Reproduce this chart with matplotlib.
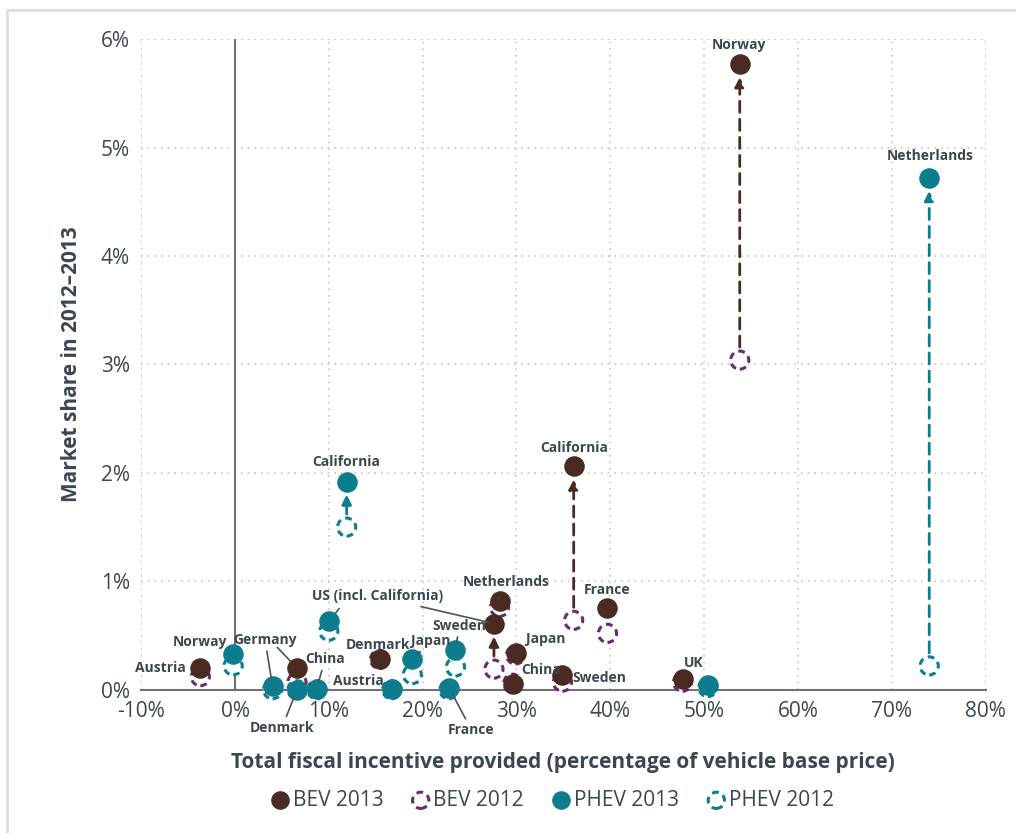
import matplotlib.pyplot as plt
from matplotlib.patches import Rectangle

# fiscal incentive (% of base price) and market share (%)
bev_names = ["Norway", "California", "Netherlands", "US", "France", "Japan",
             "China", "Sweden", "UK", "Denmark", "Germany", "Austria"]
bev_x = [53.8, 36.1, 28.2, 27.6, 39.7, 29.9, 29.6, 34.9, 47.7, 15.4, 6.6, -3.7]
bev_2013 = [5.77, 2.06, 0.82, 0.61, 0.75, 0.34, 0.05, 0.14, 0.10, 0.28, 0.20, 0.20]
bev_2012 = [3.04, 0.64, 0.76, 0.19, 0.52, 0.32, 0.06, 0.07, 0.07, 0.28, 0.07, 0.12]

phev_names = ["Netherlands", "California", "US", "Norway", "Germany", "Denmark",
              "China", "Austria", "Japan", "Sweden", "France", "UK"]
phev_x = [74.0, 11.9, 10.0, -0.2, 4.0, 6.6, 8.7, 16.7, 18.9, 23.5, 22.8, 50.4]
phev_2013 = [4.72, 1.92, 0.63, 0.33, 0.03, 0.0, 0.01, 0.01, 0.28, 0.37, 0.02, 0.04]
phev_2012 = [0.22, 1.50, 0.54, 0.22, 0.0, 0.0, 0.0, 0.0, 0.14, 0.21, 0.0, 0.02]

brown = "#4a2b21"
purple = "#6b2a6e"
teal = "#0b7d8c"
txt = "#3b4650"
grid_c = "#c4c7ca"

plt.rcParams['font.family'] = ['Open Sans', 'DejaVu Sans']

fig = plt.figure(figsize=(10.16, 8.33), dpi=100)
ax = fig.add_axes([0.139, 0.172, 0.831, 0.781])
fig.patches.append(Rectangle((0.007, -0.1), 1.2, 1.088, transform=fig.transFigure,
                             fill=False, edgecolor="#dddddd", lw=2))

ax.set_xlim(-10, 80)
ax.set_ylim(0, 6)
ax.set_xticks(range(-10, 81, 10))
ax.set_yticks(range(0, 7))
ax.set_xticklabels([f"{t}%" for t in range(-10, 81, 10)])
ax.set_yticklabels([f"{t}%" for t in range(0, 7)])
ax.tick_params(length=0, labelsize=15, colors=txt, pad=8)
for s in ["top", "right", "left"]:
    ax.spines[s].set_visible(False)
ax.spines["bottom"].set_color("#6b7378")
ax.spines["bottom"].set_linewidth(1.5)
ax.grid(True, linestyle=(0, (1, 3)), color=grid_c, lw=1.2)
ax.set_axisbelow(True)
ax.axvline(0, color="#6b7378", lw=1.5, zorder=1)
for t in [-10, 80]:
    ax.axvline(t, linestyle=(0, (1, 3)), color=grid_c, lw=1.2, zorder=0)
ax.axhline(6, linestyle=(0, (1, 3)), color=grid_c, lw=1.2, zorder=0)

# arrows: (x, y_from, y_to, color, dashed)
arrows = [
    (bev_x[0], bev_2012[0], bev_2013[0], brown, True),
    (phev_x[0], phev_2012[0], phev_2013[0], teal, True),
    (bev_x[1], bev_2012[1], bev_2013[1], brown, True),
    (phev_x[1], phev_2012[1], phev_2013[1], teal, False),
    (bev_x[3], bev_2012[3], bev_2013[3], brown, False),
]
for x, y0, y1, c, dashed in arrows:
    ax.annotate("", xy=(x, y1 - 0.12), xytext=(x, y0 + 0.12),
                arrowprops=dict(arrowstyle="-|>", color=c, lw=2,
                                linestyle=(0, (4, 2.5)) if dashed else "-",
                                mutation_scale=14, shrinkA=0, shrinkB=0),
                zorder=2)

ax.scatter(bev_x, bev_2012, s=170, facecolors="white", edgecolors=purple,
           linewidths=2.2, linestyles=(0, (2.2, 1.6)), zorder=3, label="BEV 2012",
           clip_on=False)
ax.scatter(phev_x, phev_2012, s=170, facecolors="white", edgecolors=teal,
           linewidths=2.2, linestyles=(0, (2.2, 1.6)), zorder=3, label="PHEV 2012",
           clip_on=False)
ax.scatter(bev_x, bev_2013, s=190, color=brown, zorder=4, label="BEV 2013",
           clip_on=False)
ax.scatter(phev_x, phev_2013, s=190, color=teal, zorder=4, label="PHEV 2013",
           clip_on=False)

lab = dict(fontsize=10, color=txt, fontweight="bold", zorder=5)
lead = dict(arrowstyle="-", color="#4a545c", lw=1.2, shrinkA=1, shrinkB=5)

# BEV labels
ax.text(53.7, 5.95, "Norway", ha="center", va="center", **lab)
ax.text(74.1, 4.92, "Netherlands", ha="center", va="center", **lab)
ax.text(36.1, 2.23, "California", ha="center", va="center", **lab)
ax.text(11.9, 2.10, "California", ha="center", va="center", **lab)
ax.text(28.9, 0.99, "Netherlands", ha="center", va="center", **lab)
ax.text(39.7, 0.92, "France", ha="center", va="center", **lab)
ax.text(31.0, 0.47, "Japan", ha="left", va="center", **lab)
ax.text(30.5, 0.18, "China", ha="left", va="center", **lab)
ax.text(36.0, 0.11, "Sweden", ha="left", va="center", **lab)
ax.text(48.9, 0.25, "UK", ha="center", va="center", **lab)
ax.text(15.2, 0.41, "Denmark", ha="center", va="center", **lab)
ax.text(-5.3, 0.20, "Austria", ha="right", va="center", **lab)
ax.text(-0.8, 0.44, "Norway", ha="right", va="center", **lab)
ax.text(15.9, 0.08, "Austria", ha="right", va="center", **lab)

ax.annotate("US (incl. California)", xy=(bev_x[3], bev_2013[3]), xytext=(15.2, 0.86),
            ha="center", va="center", arrowprops=lead, **lab)
ax.annotate("", xy=(phev_x[2], phev_2013[2]), xytext=(11.2, 0.76),
            arrowprops=lead)
ax.annotate("Japan", xy=(phev_x[8], phev_2013[8]), xytext=(20.9, 0.45),
            ha="center", va="center", arrowprops=lead, **lab)
ax.annotate("Sweden", xy=(phev_x[9], phev_2013[9]), xytext=(23.9, 0.59),
            ha="center", va="center", arrowprops=lead, **lab)
ax.annotate("China", xy=(phev_x[6], phev_2013[6]), xytext=(9.6, 0.28),
            ha="center", va="center", arrowprops=lead, **lab)
ax.annotate("Germany", xy=(phev_x[4], phev_2013[4]), xytext=(3.2, 0.46),
            ha="center", va="center", arrowprops=lead, **lab)
ax.annotate("", xy=(bev_x[10], bev_2013[10]), xytext=(4.4, 0.40), arrowprops=lead)
ax.annotate("Denmark", xy=(phev_x[5], phev_2013[5]), xytext=(5.0, -0.35),
            ha="center", va="center", arrowprops=lead, annotation_clip=False, **lab)
ax.annotate("France", xy=(phev_x[10], phev_2013[10]), xytext=(25.2, -0.37),
            ha="center", va="center", arrowprops=lead, annotation_clip=False, **lab)

ax.set_ylabel("Market share in 2012\u20132013", fontsize=15, color=txt,
              fontweight="bold", labelpad=14)
ax.set_xlabel("Total fiscal incentive provided (percentage of vehicle base price)",
              fontsize=15, color=txt, fontweight="bold", labelpad=22)

h, l = ax.get_legend_handles_labels()
order = [2, 0, 3, 1]
leg = ax.legend([h[i] for i in order], [l[i] for i in order], loc="upper center",
                bbox_to_anchor=(0.485, -0.125), ncol=4, frameon=False,
                fontsize=15, handletextpad=0.0, columnspacing=1.2, handlelength=1.2,
                markerscale=0.9, labelcolor=txt)

fig.savefig("out.png", dpi=100, facecolor="white")
